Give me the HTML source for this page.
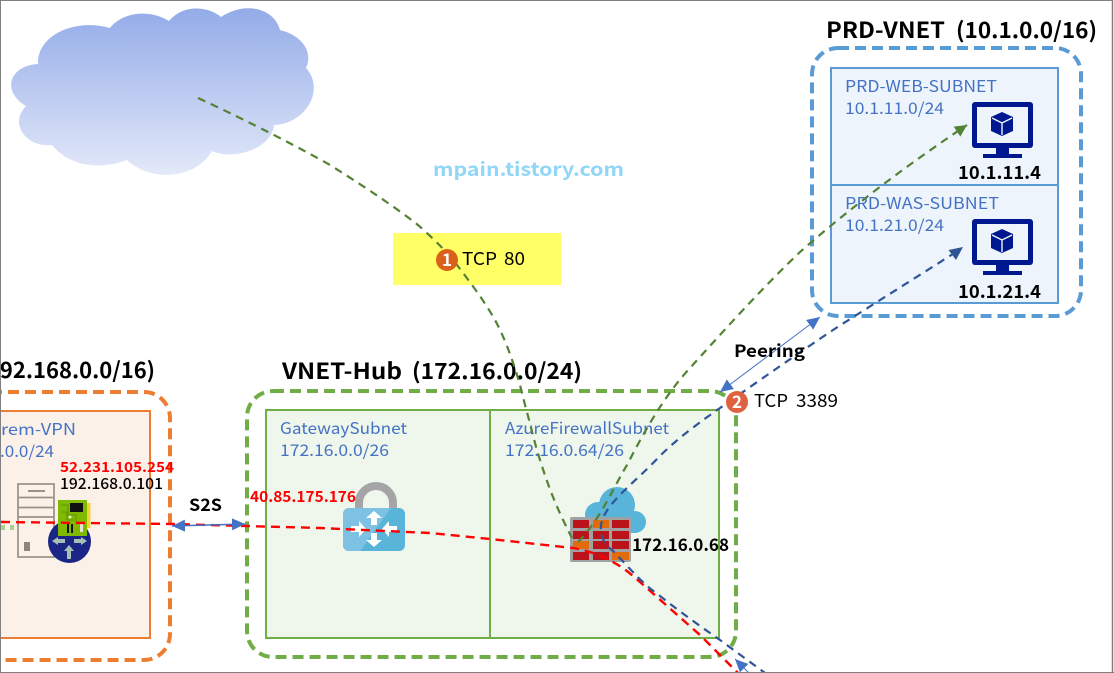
<!DOCTYPE html>
<html><head><meta charset="utf-8"><style>
html,body{margin:0;padding:0;background:#fff;width:1114px;height:673px;overflow:hidden}
svg{display:block}
text{font-family:"Noto Sans CJK KR","Liberation Sans",sans-serif}
.sub{font-size:16px;fill:#4472C4}
.b{font-weight:700;fill:#000}
.dg{fill:none;stroke:#548235;stroke-width:2.2;stroke-dasharray:8 6}
.dn{fill:none;stroke:#2F5597;stroke-width:2.2;stroke-dasharray:8 6}
.dr{fill:none;stroke:#FF0000;stroke-width:2.4;stroke-dasharray:9 6}
</style></head><body>
<svg width="1114" height="673" viewBox="0 0 1114 673" xmlns="http://www.w3.org/2000/svg">
<defs>
<linearGradient id="cg" x1="0" y1="0" x2="0" y2="1"><stop offset="0" stop-color="#93ABE8"/><stop offset="1" stop-color="#E3E9F9"/></linearGradient>
<marker id="ag" markerUnits="userSpaceOnUse" markerWidth="14" markerHeight="14" refX="12" refY="6" orient="auto"><path d="M0 0L12 6L0 12z" fill="#548235"/></marker>
<marker id="ab" markerUnits="userSpaceOnUse" markerWidth="16" markerHeight="14" refX="13" refY="6" orient="auto-start-reverse"><path d="M0 0L13 6L0 12z" fill="#4472C4"/></marker>
</defs>
<rect x="0" y="0" width="1114" height="673" fill="#fff"/>
<!-- cloud -->
<path d="M38 64C37 35 75 18 110 28C122 12 150 9 169 21C183 4 208 6 221 17C245 1 274 8 280 30C300 35 314 50 306 68C326 90 305 124 274 125C272 148 235 161 212 151C195 180 150 182 127 160C100 170 70 167 52 145C28 148 8 125 26 106C2 92 8 66 38 64z" fill="url(#cg)"/>
<text x="433" y="176" font-size="19" font-weight="700" fill="#8FD6F7" textLength="191" lengthAdjust="spacingAndGlyphs">mpain.tistory.com</text>
<!-- yellow -->
<rect x="393" y="233" width="168" height="52" fill="#FFFF66"/>

<!-- PRD VNET -->
<rect x="812" y="48" width="269" height="268" rx="26" fill="#fff" stroke="#5B9BD5" stroke-width="4" stroke-dasharray="11 6"/>
<rect x="831" y="68" width="227" height="235" fill="#EDF4FB" stroke="#5B9BD5" stroke-width="2"/>
<line x1="831" y1="185" x2="1058" y2="185" stroke="#5B9BD5" stroke-width="2"/>
<text x="826" y="38" font-size="22" class="b" textLength="119" lengthAdjust="spacingAndGlyphs">PRD-VNET</text>
<text x="956" y="38" font-size="22" class="b" textLength="141" lengthAdjust="spacingAndGlyphs">(10.1.0.0/16)</text>
<text x="845" y="92" class="sub" textLength="152" lengthAdjust="spacingAndGlyphs">PRD-WEB-SUBNET</text>
<text x="845" y="114" class="sub" textLength="99" lengthAdjust="spacingAndGlyphs">10.1.11.0/24</text>
<text x="845" y="209" class="sub" textLength="154" lengthAdjust="spacingAndGlyphs">PRD-WAS-SUBNET</text>
<text x="845" y="231" class="sub" textLength="99" lengthAdjust="spacingAndGlyphs">10.1.21.0/24</text>
<g>
<rect x="972" y="102" width="61" height="46" rx="3" fill="#00188F"/>
<rect x="977" y="107" width="51" height="36" fill="#EDF4FB"/>
<path d="M996 148h13v6h13v4h-39v-4h13z" fill="#00188F"/>
<path d="M1002 112l11 5v14l-11 5-11-5v-14z" fill="#00188F"/>
<path d="M992 118l10 5 10-5M1002 123v12" fill="none" stroke="#EDF4FB" stroke-width="1.4"/>
</g>
<g transform="translate(0,117)">
<rect x="972" y="102" width="61" height="46" rx="3" fill="#00188F"/>
<rect x="977" y="107" width="51" height="36" fill="#EDF4FB"/>
<path d="M996 148h13v6h13v4h-39v-4h13z" fill="#00188F"/>
<path d="M1002 112l11 5v14l-11 5-11-5v-14z" fill="#00188F"/>
<path d="M992 118l10 5 10-5M1002 123v12" fill="none" stroke="#EDF4FB" stroke-width="1.4"/>
</g>
<text x="958" y="179" font-size="18" class="b" textLength="83" lengthAdjust="spacingAndGlyphs">10.1.11.4</text>
<text x="958" y="298" font-size="18" class="b" textLength="83" lengthAdjust="spacingAndGlyphs">10.1.21.4</text>

<!-- Hub -->
<rect x="247" y="391" width="489" height="266" rx="26" fill="#fff" stroke="#70AD47" stroke-width="4" stroke-dasharray="11 6"/>
<rect x="266" y="410" width="453" height="228" fill="#EFF6EC" stroke="#70AD47" stroke-width="2"/>
<line x1="490" y1="410" x2="490" y2="638" stroke="#70AD47" stroke-width="2"/>
<text x="282" y="379" font-size="22" class="b" textLength="120" lengthAdjust="spacingAndGlyphs">VNET-Hub</text>
<text x="412" y="379" font-size="22" class="b" textLength="170" lengthAdjust="spacingAndGlyphs">(172.16.0.0/24)</text>
<text x="280" y="434" class="sub" textLength="127" lengthAdjust="spacingAndGlyphs">GatewaySubnet</text>
<text x="280" y="456" class="sub" textLength="109" lengthAdjust="spacingAndGlyphs">172.16.0.0/26</text>
<text x="505" y="434" class="sub" textLength="164" lengthAdjust="spacingAndGlyphs">AzureFirewallSubnet</text>
<text x="505" y="456" class="sub" textLength="119" lengthAdjust="spacingAndGlyphs">172.16.0.64/26</text>

<!-- On-prem -->
<rect x="-120" y="392" width="290" height="268" rx="26" fill="#fff" stroke="#ED7D31" stroke-width="4" stroke-dasharray="11 6"/>
<rect x="-100" y="411" width="250" height="227" fill="#FCF1E9" stroke="#ED7D31" stroke-width="2"/>
<text x="155" y="378" font-size="22" class="b" text-anchor="end">92.168.0.0/16)</text>
<text x="1" y="435" class="sub" textLength="75" lengthAdjust="spacingAndGlyphs">rem-VPN</text>
<text x="0" y="457" class="sub" textLength="54" lengthAdjust="spacingAndGlyphs">.0.0/24</text>

<!-- server -->
<g fill="none" stroke="#9A9186" stroke-width="1.7">
<rect x="18" y="484" width="36" height="73"/>
<path d="M18 497.5h36M18 507.5h36M18 517h36"/>
</g>
<rect x="28" y="490" width="17" height="2" fill="#9A9186"/>
<rect x="24" y="542" width="6" height="9" fill="#8E857A"/>
<rect x="0" y="525" width="5" height="5" fill="#A9D18E"/><rect x="10" y="525" width="4" height="5" fill="#A9D18E"/>
<!-- router + NIC -->
<circle cx="69.5" cy="541.5" r="21.5" fill="#1B2586"/>
<path d="M52 541l6-4v2h7v4h-7v2zM87 541l-6-4v2h-7v4h7v2zM69 545l-5 6h3v8h4v-8h3z" fill="#A9BFB6"/>
<rect x="87" y="503" width="3.5" height="25" fill="#F2D23A"/>
<rect x="58" y="500" width="29" height="36" fill="#7FBA00"/>
<rect x="70" y="503" width="13" height="9" fill="#111"/>
<path d="M61 505h7v10h8v8M62 512h5v8h7" fill="none" stroke="#5E9400" stroke-width="1"/>
<circle cx="70" cy="517" r="1.5" fill="#E8F2D0"/>
<rect x="67" y="524" width="2" height="9" fill="#111"/><rect x="71" y="524" width="2" height="9" fill="#111"/>
<rect x="80" y="524" width="3" height="8" fill="#E3E3D8"/>

<!-- lock -->
<path d="M359 510V503A17 17 0 0 1 393 503V510" fill="none" stroke="#A5A5A8" stroke-width="8"/>
<rect x="343" y="508" width="62" height="43" rx="6" fill="#59B4D9"/>
<path d="M343 514a6 6 0 0 1 6-6h42L360 551h-11a6 6 0 0 1-6-6z" fill="#7DC2E2"/>
<path fill="#fff" d="M374 511l8 7h-5v7h-6v-7h-5zM374 547l8-7h-5v-7h-6v7h-5zM366 529l-7-8v5h-8v6h8v5zM382 529l7-8v5h8v6h-8v5z"/>

<!-- firewall -->
<g fill="#59B4D9">
<circle cx="617" cy="505" r="18"/><circle cx="598" cy="515" r="13"/><circle cx="635" cy="522" r="11"/><rect x="590" y="515" width="44" height="18"/>
</g>
<rect x="570" y="517" width="61" height="45" rx="2" fill="#A0A1A2"/>
<g fill="#BA141A">
<rect x="573" y="520" width="16" height="8"/><rect x="612" y="520" width="17" height="8"/>
<rect x="573" y="531" width="16" height="8"/><rect x="593" y="531" width="16" height="8"/><rect x="612" y="531" width="17" height="8"/>
<rect x="593" y="541" width="16" height="8"/><rect x="612" y="541" width="17" height="8"/>
<rect x="573" y="552" width="16" height="8"/><rect x="593" y="552" width="16" height="8"/>
</g>
<g fill="#E36C0A">
<rect x="593" y="520" width="16" height="8"/><rect x="573" y="541" width="16" height="8"/><rect x="612" y="552" width="17" height="8"/>
</g>

<!-- connectors -->
<path class="dr" d="M1 522L172 524L320 528L430 533L490 539L573 548C585 550 598 554 607 559C620 565 630 573 640 582L700 635L738 673"/>
<path class="dg" d="M198 98C250 122 300 148 330 165C365 187 395 207 418 225C435 240 447 252 457 265C470 282 485 302 495 320C505 338 517 370 525 405C532 430 535 445 540 460C548 485 555 505 572 538"/>
<path class="dg" d="M578 542C600 520 612 490 627 465C645 430 665 395 690 368C720 335 760 290 800 252C850 208 910 163 967 125" marker-end="url(#ag)"/>
<path class="dn" d="M956 252C920 275 875 303 833 330C800 352 760 380 720 408C700 422 675 440 656 460C635 482 610 500 602 520C598 535 605 545 612 550C630 568 640 582 660 596C680 612 700 626 720 640L765 673"/>
<path d="M963 247L948.5 250L956 260z" fill="#2F5597"/>
<line x1="172" y1="526" x2="245" y2="524" stroke="#4472C4" stroke-width="1.5" marker-start="url(#ab)" marker-end="url(#ab)"/>
<line x1="720" y1="392" x2="820" y2="317" stroke="#4472C4" stroke-width="1" marker-start="url(#ab)" marker-end="url(#ab)"/>
<line x1="750" y1="674" x2="735" y2="659" stroke="#4472C4" stroke-width="1" marker-end="url(#ab)"/>

<!-- labels -->
<text x="60" y="472" font-size="14" font-weight="700" fill="#FF0000" textLength="114" lengthAdjust="spacingAndGlyphs">52.231.105.254</text>
<text x="60" y="489" font-size="15" font-weight="500" fill="#000" textLength="103" lengthAdjust="spacingAndGlyphs">192.168.0.101</text>
<text x="250" y="502" font-size="15" font-weight="700" fill="#FF0000" textLength="106" lengthAdjust="spacingAndGlyphs">40.85.175.176</text>
<text x="189" y="511" font-size="17" class="b" textLength="33" lengthAdjust="spacingAndGlyphs">S2S</text>
<text x="632" y="551" font-size="17" class="b" textLength="97" lengthAdjust="spacingAndGlyphs">172.16.0.68</text>
<text x="734" y="357" font-size="17" class="b" textLength="71" lengthAdjust="spacingAndGlyphs">Peering</text>
<circle cx="447" cy="260" r="11" fill="#DB6118"/>
<text x="447" y="266" font-size="17" font-weight="700" fill="#fff" text-anchor="middle">1</text>
<text x="462" y="265" font-size="18" fill="#000" textLength="35" lengthAdjust="spacingAndGlyphs">TCP</text>
<text x="504" y="265" font-size="18" fill="#000" textLength="21" lengthAdjust="spacingAndGlyphs">80</text>
<circle cx="737" cy="402" r="11" fill="#E0613F"/>
<text x="737" y="408" font-size="17" font-weight="700" fill="#fff" text-anchor="middle">2</text>
<text x="754" y="407" font-size="18" fill="#000" textLength="34" lengthAdjust="spacingAndGlyphs">TCP</text>
<text x="796" y="407" font-size="18" fill="#000" textLength="42" lengthAdjust="spacingAndGlyphs">3389</text>

<!-- frame -->
<path d="M0.5 673V0.5H1113M0 672.5H1114" fill="none" stroke="#808080" stroke-width="1"/>
<line x1="1112.5" y1="0" x2="1112.5" y2="673" stroke="#808080" stroke-width="1.5"/>
</svg>
</body></html>
